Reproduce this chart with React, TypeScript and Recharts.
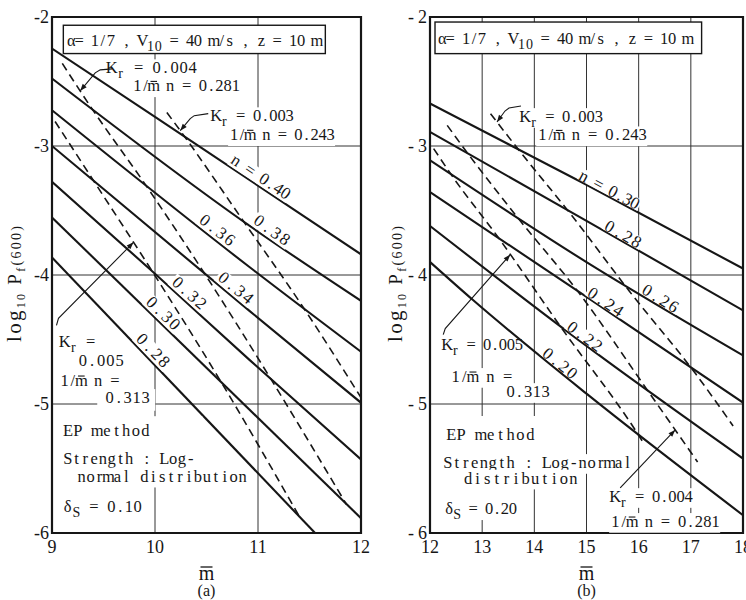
import React from 'react';
import {
  LineChart,
  Line,
  XAxis,
  YAxis,
  CartesianGrid,
  ReferenceArea,
  ReferenceDot,
} from 'recharts';

type Pt = [number, number];
type Run = [string, ('sub' | 'bar')?];

const INK = '#161616';
const TYPE = '"Liberation Serif", "DejaVu Serif", serif';

const logTicks = [-6, -5, -4, -3, -2];

// (a) delta_S = 0.10 : log10 Pf(600) against m-bar, one solid curve per n
const mTicksA = [9, 10, 11, 12];
const a040: Pt[] = [[9, -2.245], [10, -2.775], [12, -3.84]];
const a038: Pt[] = [[9, -2.477], [10.92, -3.62], [12, -4.2]];
const a036: Pt[] = [[9, -2.723], [10.92, -3.94], [12, -4.595]];
const a034: Pt[] = [[9, -3.0], [10.92, -4.28], [12, -4.99]];
const a032: Pt[] = [[9, -3.278], [10, -3.99], [10.92, -4.66], [12, -5.43]];
const a030: Pt[] = [[9, -3.554], [12, -5.885]];
const a028: Pt[] = [[9, -3.864], [11.554, -6.0]];
// dashed: constant K_r
const aKr004: Pt[] = [[9.1, -2.36], [9.37, -2.69], [9.89, -3.28], [10.47, -3.975], [11.12, -4.8], [11.86, -5.78]];
const aKr003: Pt[] = [[10.115, -2.74], [10.29, -2.93], [10.83, -3.55], [11.43, -4.24], [12.0, -4.95]];
const aKr005: Pt[] = [[9.03, -2.81], [9.4, -3.265], [9.98, -3.98], [10.65, -4.84], [11.4, -5.87]];

// (b) delta_S = 0.20
const mTicksB = [12, 13, 14, 15, 16, 17, 18];
const b030: Pt[] = [[12, -2.671], [15, -3.3], [18, -3.95]];
const b028: Pt[] = [[12, -2.891], [15, -3.58], [18, -4.274]];
const b026: Pt[] = [[12, -3.111], [15, -3.9], [18, -4.623]];
const b024: Pt[] = [[12, -3.357], [15, -4.17], [18, -4.989]];
const b022: Pt[] = [[12, -3.62], [15, -4.55], [18, -5.423]];
const b020: Pt[] = [[12, -3.899], [12.83, -4.196], [15, -4.92], [18, -5.862]];
const bKr003: Pt[] = [[13.16, -2.75], [13.72, -3.04], [14.7, -3.53], [15.83, -4.13], [17.1, -4.77], [17.81, -5.17]];
const bKr004: Pt[] = [[12.33, -2.84], [12.71, -3.05], [13.69, -3.56], [14.83, -4.125], [16.18, -4.9], [17.13, -5.45]];
const bKr005: Pt[] = [[12.07, -3.02], [12.42, -3.23], [13.31, -3.71], [14.52, -4.41], [15.98, -5.23], [16.09, -5.3]];

type Note = { m: number; v: number; w: number; runs: Run[]; size?: number; bg?: boolean; pad?: number[] };
type CurveLabel = { line: Pt[]; m: number; text: string; deg: number; w: number };
type Leader = { line: Pt[]; m: number; path: Pt[] };
type Patch = { m: number; v: number; w: number; h: number; stroke?: boolean };

const rows = (pts: Pt[]) => pts.map(([m, v]) => ({ m, v }));

// position along a polyline, used to seat labels and arrow tips on a curve
const valueAt = (pts: Pt[], m: number) => {
  for (let i = 1; i < pts.length; i++) {
    const [m0, v0] = pts[i - 1];
    const [m1, v1] = pts[i];
    if (m <= m1) return v0 + ((m - m0) / (m1 - m0)) * (v1 - v0);
  }
  return pts[pts.length - 1][1];
};

// typewriter setting: every character sits in a fixed-pitch cell
function typeset(runs: Run[], x0: number, y0: number, pitch: number, fs: number) {
  const out: React.ReactNode[] = [];
  let k = 0;
  runs.forEach(([t, kind], ri) => {
    const chars = [...t];
    const xs: number[] = [];
    let txt = '';
    chars.forEach((ch, j) => {
      if (ch !== ' ') {
        xs.push(x0 + (k + j + 0.5) * pitch);
        txt += ch;
      }
    });
    if (kind === 'bar') {
      xs.forEach((x, bi) =>
        out.push(
          <line key={`b${ri}-${bi}`} x1={x - pitch * 0.4} x2={x + pitch * 0.4} y1={y0 - fs * 0.6} y2={y0 - fs * 0.6} stroke={INK} strokeWidth={1.1} />,
        ),
      );
    }
    if (txt) {
      out.push(
        <text
          key={`t${ri}`}
          x={xs.join(' ')}
          y={y0 + (kind === 'sub' ? fs * 0.3 : 0)}
          fontSize={kind === 'sub' ? fs * 0.85 : fs}
          textAnchor="middle"
        >
          {txt}
        </text>,
      );
    }
    k += chars.length;
  });
  return out;
}

const cellCount = (runs: Run[]) => runs.reduce((s, [t]) => s + [...t].length, 0);

const noteShape = (n: Note) => (p: any) => {
  const fs = n.size ?? 16.5;
  const [pl, pt, pr, pb] = n.pad ?? [2, 2, 2, 2];
  const pitch = n.w / (cellCount(n.runs) - 0.2);
  return (
    <g fontFamily={TYPE} fill={INK}>
      {n.bg !== false && (
        <rect x={p.cx - pl} y={p.cy - fs * 0.72 - pt} width={n.w + pl + pr} height={fs * 0.95 + pt + pb} fill="#fff" />
      )}
      {typeset(n.runs, p.cx, p.cy, pitch, fs)}
    </g>
  );
};

const curveLabelShape = (c: CurveLabel, lift: number) => (p: any) => {
  const cells = [...c.text].length;
  const pitch = c.w / (cells - 0.2);
  return (
    <g transform={`translate(${p.cx},${p.cy}) rotate(${c.deg})`} fontFamily={TYPE} fill={INK}>
      <rect x={-c.w / 2 - 2} y={-lift - 12} width={c.w + 4} height={12 + lift - 0.8} fill="#fff" />
      {typeset([[c.text]], -(cells * pitch) / 2, -lift, pitch, 17)}
    </g>
  );
};

const leaderShape = (l: Leader) => (p: any) => {
  const [dx, dy] = l.path[0];
  const deg = (Math.atan2(-dy, -dx) * 180) / Math.PI;
  const d = 'M0,0 ' + l.path.map(([x, y]) => `L${x},${y}`).join(' ');
  return (
    <g transform={`translate(${p.cx},${p.cy})`}>
      <path d={d} fill="none" stroke={INK} strokeWidth={1.1} />
      <path d="M0,0 L-7,-2.6 L-7,2.6 Z" transform={`rotate(${deg})`} fill={INK} />
    </g>
  );
};

const patchShape = (r: Patch) => (p: any) => (
  <rect
    x={p.cx}
    y={p.cy}
    width={r.w}
    height={r.h}
    fill="#fff"
    stroke={r.stroke ? INK : 'none'}
    strokeWidth={1.4}
  />
);

const yTitle = (dx: number) => (p: any) => (
  <text
    transform={`translate(${p.cx - dx},${p.cy + 9}) rotate(-90)`}
    textAnchor="middle"
    fontFamily={TYPE}
    fill={INK}
    textLength={116}
    lengthAdjust="spacing"
  >
    <tspan fontSize={21}>log</tspan>
    <tspan fontSize={12} dy={4}>10</tspan>
    <tspan fontSize={19} dy={-4} style={{ whiteSpace: 'pre' }}> P</tspan>
    <tspan fontSize={12} dy={4}>f</tspan>
    <tspan fontSize={14} dy={-4}>(600)</tspan>
  </text>
);

const xTitle = (caption: string) => (p: any) => (
  <g fontFamily={TYPE} fill={INK}>
    <text x={p.cx} y={p.cy + 47} textAnchor="middle" fontSize={20}>m</text>
    <line x1={p.cx - 6} x2={p.cx + 6} y1={p.cy + 34} y2={p.cy + 34} stroke={INK} strokeWidth={1.3} />
    <text x={p.cx} y={p.cy + 63} textAnchor="middle" fontSize={16}>{caption}</text>
  </g>
);

const krRuns = (val: string): Run[] => [['K'], ['r', 'sub'], [val]];
const mnRuns = (val: string): Run[] => [['1/'], ['m', 'bar'], [val]];
const windRuns: Run[] = [['α= 1/7 , V'], ['10', 'sub'], [' = 40 m/s , z = 10 m']];

type PanelProps = {
  xDomain: [number, number];
  xTicks: number[];
  solids: Pt[][];
  dashes: Pt[][];
  curveLabels: CurveLabel[];
  lift: number;
  notes: Note[];
  leaders: Leader[];
  patches: Patch[];
  yWidth: number;
  right: number;
  spacedMinus: boolean;
  titleDx: number;
  caption: string;
};

function Panel(pp: PanelProps) {
  const [x0, x1] = pp.xDomain;
  const xTick = (p: any) => (
    <text x={p.x} y={p.y + 20} textAnchor="middle" fontFamily={TYPE} fontSize={18} fill={INK}>
      {p.payload.value}
    </text>
  );
  // margin.left is 0, so the plot's left edge sits at yWidth
  const yTick = (p: any) => (
    <g fontFamily={TYPE} fontSize={18} fill={INK}>
      <text x={pp.yWidth - 3} y={p.y + 6} textAnchor="end">
        {pp.spacedMinus ? Math.abs(p.payload.value) : p.payload.value}
      </text>
      {pp.spacedMinus && (
        <text x={pp.yWidth - 16} y={p.y + 6} textAnchor="end">-</text>
      )}
    </g>
  );
  return (
    <LineChart width={373} height={600} margin={{ top: 17, right: pp.right, bottom: 37, left: 0 }}>
      <CartesianGrid stroke="#333" strokeWidth={1} />
      <XAxis
        type="number"
        dataKey="m"
        domain={pp.xDomain}
        ticks={pp.xTicks}
        interval={0}
        allowDataOverflow
        axisLine={false}
        tickLine={false}
        tickSize={0}
        tickMargin={0}
        height={30}
        tick={xTick}
      />
      <YAxis
        type="number"
        domain={[-6, -2]}
        ticks={logTicks}
        interval={0}
        allowDataOverflow
        axisLine={false}
        tickLine={false}
        tickSize={0}
        tickMargin={0}
        width={pp.yWidth}
        tick={yTick}
      />
      {pp.solids.map((pts, i) => (
        <Line
          key={`s${i}`}
          data={rows(pts)}
          dataKey="v"
          type="monotone"
          stroke={INK}
          strokeWidth={2.1}
          dot={false}
          activeDot={false}
          isAnimationActive={false}
        />
      ))}
      {pp.dashes.map((pts, i) => (
        <Line
          key={`d${i}`}
          data={rows(pts)}
          dataKey="v"
          type="monotone"
          stroke={INK}
          strokeWidth={1.6}
          strokeDasharray="8 5"
          dot={false}
          activeDot={false}
          isAnimationActive={false}
        />
      ))}
      <ReferenceArea x1={x0} x2={x1} y1={-6} y2={-2} fill="none" stroke={INK} strokeWidth={2.2} ifOverflow="visible" />
      {pp.patches.map((r, i) => (
        <ReferenceDot key={`p${i}`} x={r.m} y={r.v} r={0} ifOverflow="visible" shape={patchShape(r)} />
      ))}
      {pp.curveLabels.map((c, i) => (
        <ReferenceDot key={`c${i}`} x={c.m} y={valueAt(c.line, c.m)} r={0} ifOverflow="visible" shape={curveLabelShape(c, pp.lift)} />
      ))}
      {pp.notes.map((n, i) => (
        <ReferenceDot key={`n${i}`} x={n.m} y={n.v} r={0} ifOverflow="visible" shape={noteShape(n)} />
      ))}
      {pp.leaders.map((l, i) => (
        <ReferenceDot key={`l${i}`} x={l.m} y={valueAt(l.line, l.m)} r={0} ifOverflow="visible" shape={leaderShape(l)} />
      ))}
      <ReferenceDot x={x0} y={-4} r={0} ifOverflow="visible" shape={yTitle(pp.titleDx)} />
      <ReferenceDot x={(x0 + x1) / 2} y={-6} r={0} ifOverflow="visible" shape={xTitle(pp.caption)} />
    </LineChart>
  );
}

const panelA: PanelProps = {
  xDomain: [9, 12],
  xTicks: mTicksA,
  solids: [a040, a038, a036, a034, a032, a030, a028],
  dashes: [aKr004, aKr003, aKr005],
  curveLabels: [
    { line: a040, m: 10.98, text: 'n = 0.40', deg: 33.7, w: 66 },
    { line: a038, m: 11.085, text: '0.38', deg: 35.8, w: 40 },
    { line: a036, m: 10.552, text: '0.36', deg: 38, w: 40 },
    { line: a034, m: 10.73, text: '0.34', deg: 39.7, w: 40 },
    { line: a032, m: 10.276, text: '0.32', deg: 42, w: 40 },
    { line: a030, m: 10.02, text: '0.30', deg: 44, w: 40 },
    { line: a028, m: 9.92, text: '0.28', deg: 46, w: 40 },
  ],
  lift: 3.5,
  notes: [
    { m: 9.148, v: -2.227, w: 252, runs: windRuns, bg: false },
    { m: 9.536, v: -2.436, w: 88, runs: krRuns(' = 0.004') },
    { m: 9.789, v: -2.576, w: 105, runs: mnRuns(' n = 0.281') },
    { m: 10.555, v: -2.808, w: 80, runs: krRuns(' = 0.003') },
    { m: 10.729, v: -2.955, w: 103, runs: mnRuns(' n = 0.243') },
    { m: 9.081, v: -4.559, w: 33, runs: krRuns(' =') },
    { m: 9.255, v: -4.705, w: 44, runs: [['0.005']] },
    { m: 9.081, v: -4.86, w: 57, runs: mnRuns(' n =') },
    { m: 9.517, v: -4.992, w: 43, runs: [['0.313']], pad: [8, 2, 7, 4] },
    { m: 9.11, v: -5.249, w: 85, runs: [['EP method']] },
    { m: 9.11, v: -5.466, w: 130, runs: [['Strength : Log-']] },
    { m: 9.245, v: -5.602, w: 168, runs: [['normal distribution']] },
    { m: 9.11, v: -5.834, w: 77, runs: [['δ'], ['S', 'sub'], [' = 0.10']] },
  ],
  leaders: [
    { line: aKr004, m: 9.274, path: [[15, -18], [20, -21], [32, -22]] },
    { line: aKr003, m: 10.245, path: [[10, -12], [14, -15], [28, -17]] },
    { line: aKr005, m: 9.791, path: [[-75, 76], [-77, 83]] },
  ],
  patches: [
    { m: 9.11, v: -2.064, w: 262, h: 28.3, stroke: true },
    { m: 9.0805, v: -5.0945, w: 142, h: 54 },
  ],
  yWidth: 52,
  right: 12,
  spacedMinus: false,
  titleDx: 31,
  caption: '(a)',
};

const panelB: PanelProps = {
  xDomain: [12, 18],
  xTicks: mTicksB,
  solids: [b030, b028, b026, b024, b022, b020],
  dashes: [bKr003, bKr004, bKr005],
  curveLabels: [
    { line: b030, m: 15.383, text: 'n = 0.30', deg: 28, w: 64 },
    { line: b028, m: 15.64, text: '0.28', deg: 29.7, w: 39 },
    { line: b026, m: 16.35, text: '0.26', deg: 31.9, w: 39 },
    { line: b024, m: 15.295, text: '0.24', deg: 33.9, w: 39 },
    { line: b022, m: 14.893, text: '0.22', deg: 36.6, w: 39 },
    { line: b020, m: 14.414, text: '0.20', deg: 39, w: 39 },
  ],
  lift: 1,
  notes: [
    { m: 12.159, v: -2.206, w: 252, runs: windRuns, bg: false },
    { m: 13.749, v: -2.814, w: 80, runs: krRuns(' = 0.003') },
    { m: 14.075, v: -2.956, w: 107, runs: mnRuns(' n = 0.243') },
    { m: 12.255, v: -4.584, w: 78, runs: krRuns(' = 0.005'), bg: false },
    { m: 12.408, v: -4.829, w: 59, runs: mnRuns(' n =') },
    { m: 13.462, v: -4.946, w: 42, runs: [['0.313']] },
    { m: 12.312, v: -5.281, w: 87, runs: [['EP method']] },
    { m: 12.255, v: -5.496, w: 187, runs: [['Strength : Log-normal']] },
    { m: 12.638, v: -5.617, w: 113, runs: [['distribution']] },
    { m: 12.293, v: -5.85, w: 70, runs: [['δ'], ['S', 'sub'], [' = 0.20']] },
    { m: 15.473, v: -5.76, w: 80, runs: krRuns(' = 0.004') },
    { m: 15.473, v: -5.953, w: 107, runs: mnRuns(' n = 0.281') },
  ],
  leaders: [
    { line: bKr003, m: 13.284, path: [[8, -11], [12, -14], [24, -16]] },
    { line: bKr005, m: 13.538, path: [[-65, 74], [-67, 80]] },
    { line: bKr004, m: 16.7, path: [[-55, 58]] },
  ],
  patches: [
    { m: 12.096, v: -2.039, w: 266.6, h: 31.6, stroke: true },
    { m: 12.216, v: -5.093, w: 104, h: 54 },
    { m: 12.216, v: -5.512, w: 59, h: 50 },
  ],
  yWidth: 57,
  right: 3,
  spacedMinus: true,
  titleDx: 28,
  caption: '(b)',
};

export default function App() {
  return (
    <div style={{ position: 'absolute', left: 0, top: 0, width: 746, height: 600, background: '#fff', display: 'flex' }}>
      <Panel {...panelA} />
      <Panel {...panelB} />
    </div>
  );
}
